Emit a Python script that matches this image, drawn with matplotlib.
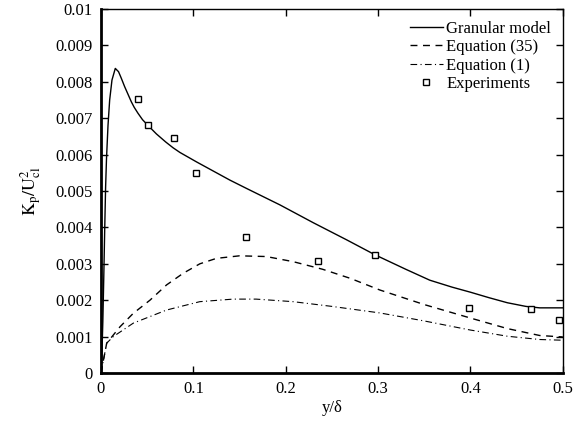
import matplotlib
matplotlib.use("Agg")
import matplotlib.pyplot as plt

plt.rcParams["font.family"] = ["Liberation Serif", "DejaVu Serif"]
plt.rcParams["mathtext.fontset"] = "stix"

# granular model
gran_x = [0.0, 0.001, 0.002, 0.003, 0.004, 0.005, 0.006, 0.0076, 0.0094, 0.0119,
          0.0155, 0.019, 0.022, 0.0256, 0.0329, 0.036, 0.040, 0.045, 0.051, 0.060,
          0.070, 0.078, 0.0855, 0.1035, 0.1396, 0.1577, 0.1937, 0.2298, 0.2659,
          0.2965, 0.33, 0.356, 0.38, 0.40, 0.42, 0.44, 0.46, 0.475, 0.50]
gran_y = [0.0, 0.0005, 0.0014, 0.0026, 0.0039, 0.0051, 0.0059, 0.0068, 0.0075, 0.00805,
          0.00837, 0.00828, 0.0081, 0.00787, 0.00745, 0.00730, 0.00714, 0.00696,
          0.00680, 0.00657, 0.00635, 0.00619, 0.00606, 0.00580, 0.00530, 0.00507,
          0.00462, 0.00413, 0.00366, 0.00325, 0.00285, 0.00255, 0.00236, 0.00222,
          0.00207, 0.00193, 0.00183, 0.00179, 0.00179]

# Equation (35)
eq35_x = [0.0, 0.0062, 0.0206, 0.035, 0.053, 0.071, 0.089, 0.107, 0.125, 0.150, 0.179,
          0.208, 0.24, 0.27, 0.302, 0.35, 0.40, 0.44, 0.475, 0.50]
eq35_y = [0.0, 0.00082, 0.00127, 0.00164, 0.0020, 0.00242, 0.00274, 0.0030, 0.00315,
          0.00322, 0.0032, 0.00306, 0.00285, 0.0026, 0.00228, 0.00188, 0.00151, 0.00122,
          0.00103, 0.00099]

# Equation (1)
eq1_x = [0.0, 0.0062, 0.0133, 0.035, 0.071, 0.107, 0.143, 0.168, 0.208, 0.25, 0.302,
         0.35, 0.40, 0.44, 0.475, 0.50]
eq1_y = [0.0, 0.00082, 0.0010, 0.00137, 0.00173, 0.00196, 0.00203, 0.00203, 0.00196,
         0.00183, 0.00165, 0.00143, 0.00118, 0.00101, 0.00092, 0.00090]

# experiments
exp_x = [0.040, 0.051, 0.079, 0.103, 0.157, 0.235, 0.297, 0.398, 0.466, 0.496]
exp_y = [0.00753, 0.00681, 0.00646, 0.00549, 0.00374, 0.00308, 0.00324, 0.00179,
         0.00176, 0.00146]

fig = plt.figure(figsize=(5.82, 4.33), dpi=100)
ax = fig.add_axes([0.1735, 0.1386, 0.7935, 0.8404])

ax.plot(gran_x, gran_y, "-", color="black", lw=1.0, label="Granular model")
ax.plot(eq35_x, eq35_y, color="black", lw=1.0, dashes=(5, 4), label="Equation (35)")
ax.plot(eq1_x, eq1_y, color="black", lw=0.8, dashes=(6, 3, 1, 3), label="Equation (1)")
ax.plot(exp_x, exp_y, "s", mfc="white", mec="black", mew=1.0, ms=5,
        ls="none", label="Experiments")

ax.set_xlim(0, 0.5)
ax.set_ylim(0, 0.01)
ax.set_xticks([0, 0.1, 0.2, 0.3, 0.4, 0.5])
ax.set_xticklabels(["0", "0.1", "0.2", "0.3", "0.4", "0.5"])
yt = [0, 0.001, 0.002, 0.003, 0.004, 0.005, 0.006, 0.007, 0.008, 0.009, 0.01]
ax.set_yticks(yt)
ax.set_yticklabels(["0", "0.001", "0.002", "0.003", "0.004", "0.005", "0.006",
                    "0.007", "0.008", "0.009", "0.01"])
ax.tick_params(direction="in", top=True, right=True, length=5, width=1,
               labelsize=12, pad=6)

ax.spines["left"].set_linewidth(2)
ax.spines["bottom"].set_linewidth(2)
ax.spines["top"].set_linewidth(1)
ax.spines["right"].set_linewidth(1)

ax.set_xlabel("y/δ", fontsize=12, labelpad=2)
ax.set_ylabel(r"$\mathrm{K}_{\mathrm{p}}/\mathrm{U}^{2}_{\mathrm{cl}}$", fontsize=13,
              labelpad=8)

ax.legend(loc="upper right", frameon=False, fontsize=12, handlelength=2.0,
          handletextpad=0.2, labelspacing=0.15, borderaxespad=0.3)

fig.savefig("out.png", dpi=100)
